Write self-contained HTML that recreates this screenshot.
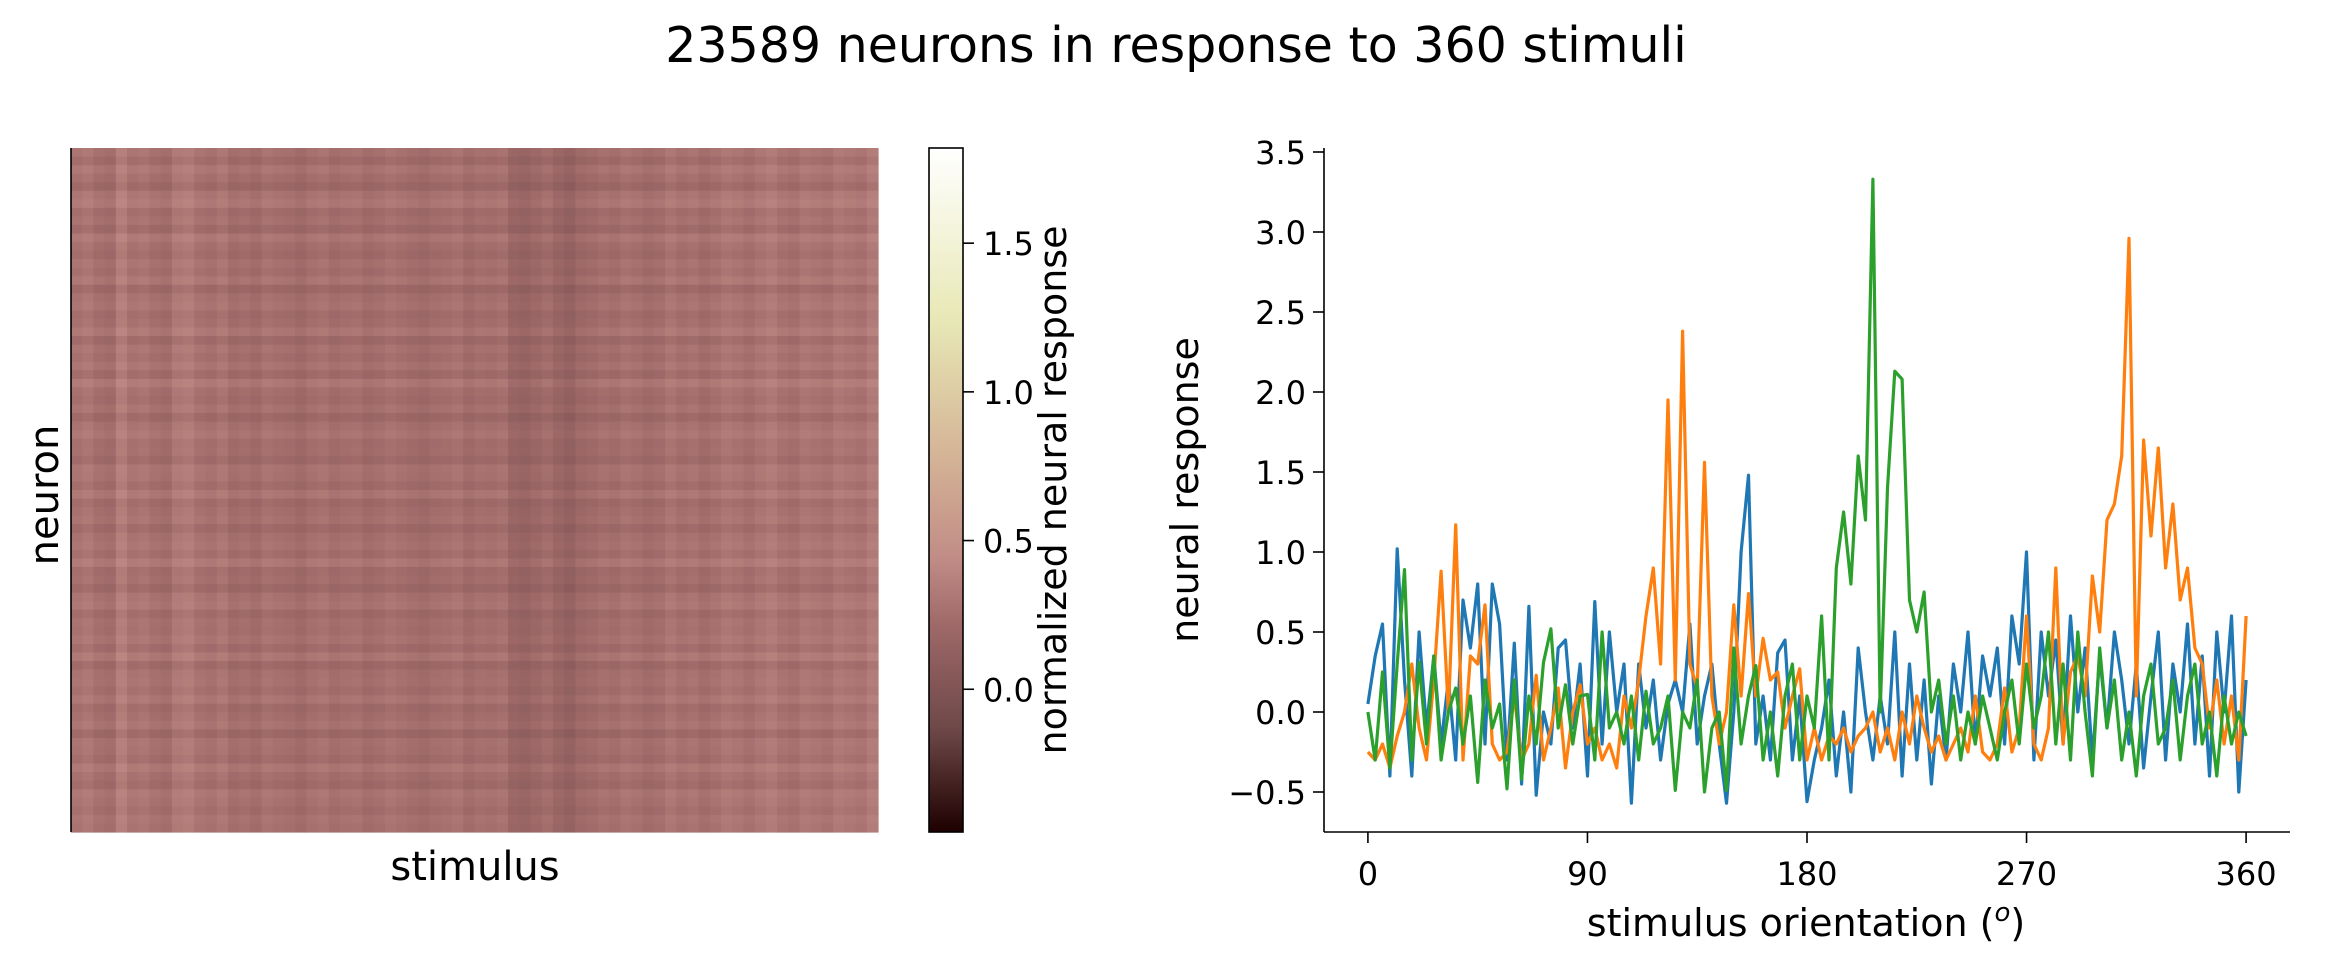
<!DOCTYPE html>
<html><head><meta charset="utf-8"><style>
html,body{margin:0;padding:0;background:#fff;}
svg{display:block;font-family:"DejaVu Sans","Liberation Sans",sans-serif;}
</style></head><body>
<svg id="fig" width="2352" height="965" viewBox="0 0 2352 965" xmlns="http://www.w3.org/2000/svg">
<text x="1176" y="62" font-size="49" text-anchor="middle">23589 neurons in response to 360 stimuli</text>
<g id="heat"></g>
<line x1="71" y1="148" x2="71" y2="832" stroke="#000" stroke-width="1.6"/>
<text x="475" y="880" font-size="40" text-anchor="middle">stimulus</text>
<text transform="translate(58,495) rotate(-90)" font-size="40" text-anchor="middle">neuron</text>
<defs><linearGradient id="cbg" x1="0" y1="1" x2="0" y2="0">
<stop offset="0" stop-color="rgb(30,0,0)"/><stop offset="0.15" stop-color="rgb(110,72,72)"/><stop offset="0.3" stop-color="rgb(158,104,104)"/><stop offset="0.4" stop-color="rgb(193,140,134)"/><stop offset="0.55" stop-color="rgb(212,180,150)"/><stop offset="0.75" stop-color="rgb(232,232,182)"/><stop offset="1" stop-color="rgb(255,255,255)"/>
</linearGradient></defs>
<rect x="929" y="148" width="34" height="684" fill="url(#cbg)" stroke="#000" stroke-width="1.6"/>
<g id="cbticks"></g>
<text transform="translate(1066,490) rotate(-90)" font-size="38" text-anchor="middle">normalized neural response</text>
<g id="lines"></g>
<line x1="1324" y1="148" x2="1324" y2="832" stroke="#000" stroke-width="1.6"/>
<line x1="1324" y1="832" x2="2290" y2="832" stroke="#000" stroke-width="1.6"/>
<g id="ticks"></g>
<text transform="translate(1198,490) rotate(-90)" font-size="38" text-anchor="middle">neural response</text>
<text x="1806" y="936" font-size="38" text-anchor="middle">stimulus orientation (<tspan font-style="italic" baseline-shift="super" font-size="26">o</tspan>)</text>
</svg>
<script>
const colVals=[0.22,0.25,0.2,0.18,0.3,0.22,0.24,0.2,0.18,0.26,0.28,0.22,0.2,0.24,0.18,0.2,0.17,0.22,0.2,0.19,0.16,0.2,0.22,0.18,0.2,0.21,0.17,0.19,0.22,0.2,0.18,0.16,0.19,0.2,0.22,0.17,0.2,0.19,0.21,0.12,0.1,0.14,0.18,0.12,0.08,0.15,0.17,0.2,0.18,0.22,0.2,0.17,0.19,0.24,0.2,0.22,0.18,0.21,0.25,0.23,0.2,0.24,0.27,0.22,0.2,0.25,0.23,0.21,0.26,0.24,0.22,0.28];
const rowVals=[0.02,-0.03,0.04,0.0,-0.05,0.03,0.06,-0.02,0.01,-0.04,0.05,0.0,-0.03,0.02,-0.01,0.04,-0.05,0.01,0.03,-0.02,0.0,0.05,-0.04,0.02,-0.01,0.03,-0.03,0.06,0.0,-0.02,0.02,-0.05,0.01,0.04,-0.01,0.0,-0.04,0.03,0.02,-0.02,0.05,-0.03,0.0,0.02,-0.04,0.01,0.03,-0.01,0.06,-0.02,0.0,-0.05,0.02,0.04,-0.03,0.01,0.0,0.03,-0.02,0.05,-0.04,0.01,0.02,-0.01,0.04,-0.03,0.0,0.03,-0.05,0.02,0.01,-0.02,0.05,0.0,-0.03,0.04,0.02,-0.01,0.03,0.01];
const cbTicks=[0.0,0.5,1.0,1.5];
const yTicks=[-0.5,0.0,0.5,1.0,1.5,2.0,2.5,3.0,3.5];
const xTicks=[0,90,180,270,360];
const blue=[0.05,0.35,0.55,-0.4,1.02,0.2,-0.4,0.5,-0.1,0.35,-0.2,0.2,-0.3,0.7,0.4,0.8,-0.2,0.8,0.55,-0.3,0.43,-0.45,0.66,-0.52,0.0,-0.2,0.4,0.45,-0.1,0.3,-0.4,0.69,-0.2,0.5,0.0,0.3,-0.57,0.3,-0.1,0.2,-0.3,0.05,0.2,0.0,0.55,-0.2,0.1,0.3,-0.2,-0.57,0.0,1.0,1.48,-0.2,0.1,-0.3,0.37,0.45,-0.3,0.1,-0.56,-0.3,-0.1,0.2,-0.4,0.0,-0.5,0.4,0.0,-0.3,0.1,-0.2,0.5,-0.4,0.3,-0.3,0.2,-0.45,0.1,-0.3,0.3,0.0,0.5,-0.2,0.35,0.1,0.4,-0.2,0.6,0.3,1.0,-0.3,0.5,0.1,0.45,-0.2,0.6,0.0,0.4,-0.3,0.35,-0.1,0.5,0.2,-0.2,0.3,-0.35,0.1,0.5,-0.3,0.3,0.0,0.55,-0.2,0.35,-0.4,0.5,0.0,0.6,-0.5,0.2];
const orange=[-0.25,-0.3,-0.2,-0.35,-0.15,0.0,0.3,-0.1,-0.3,0.2,0.88,0.0,1.17,-0.3,0.35,0.3,0.67,-0.2,-0.3,-0.25,0.1,-0.3,-0.2,0.23,-0.3,-0.1,0.15,-0.35,0.0,0.17,-0.2,-0.1,-0.3,-0.2,-0.35,0.1,-0.1,0.2,0.6,0.9,0.3,1.95,0.2,2.38,0.3,0.15,1.56,0.1,-0.2,0.0,0.67,0.1,0.74,0.1,0.46,0.2,0.25,-0.1,0.1,0.27,-0.3,-0.1,-0.3,-0.15,-0.2,-0.1,-0.25,-0.15,-0.1,0.0,-0.25,-0.1,-0.3,0.0,-0.2,0.1,-0.1,-0.25,-0.15,-0.3,-0.2,-0.1,-0.25,0.1,-0.25,-0.3,-0.2,0.15,-0.25,-0.1,0.6,-0.2,-0.3,-0.1,0.9,-0.2,0.25,0.35,0.1,0.85,0.5,1.2,1.3,1.6,2.96,0.1,1.7,1.1,1.65,0.9,1.3,0.7,0.9,0.4,0.3,-0.1,0.2,-0.2,0.1,-0.3,0.6];
const green=[0.0,-0.3,0.25,-0.35,0.3,0.89,-0.3,0.31,-0.2,0.35,-0.3,0.0,0.15,-0.2,0.1,-0.44,0.2,-0.1,0.05,-0.48,0.2,-0.42,0.1,-0.2,0.31,0.52,-0.1,0.17,-0.2,0.1,0.11,-0.3,0.5,-0.1,0.0,-0.2,0.1,-0.3,0.13,-0.2,-0.1,0.1,-0.49,0.0,-0.1,0.2,-0.5,-0.1,0.0,-0.49,0.4,-0.2,0.1,0.29,-0.3,0.0,-0.4,0.1,0.3,-0.3,0.1,-0.1,0.6,-0.3,0.9,1.25,0.8,1.6,1.2,3.33,0.0,1.4,2.13,2.08,0.7,0.5,0.75,0.0,0.2,-0.2,0.1,-0.3,0.0,-0.2,0.1,-0.1,-0.3,0.0,0.2,-0.2,0.3,-0.1,0.1,0.5,-0.2,0.3,-0.3,0.5,0.0,-0.4,0.4,-0.1,0.2,-0.3,0.0,-0.4,0.1,0.3,-0.2,-0.1,0.2,-0.3,0.1,0.3,-0.2,0.0,-0.4,0.1,-0.2,0.0,-0.15];

const NS="http://www.w3.org/2000/svg";
function mk(tag,attrs,parent){const e=document.createElementNS(NS,tag);for(const k in attrs)e.setAttribute(k,attrs[k]);parent.appendChild(e);return e;}
const stops=[[0,30,0,0],[0.15,110,72,72],[0.3,158,104,104],[0.4,193,140,134],[0.55,212,180,150],[0.75,232,232,182],[1,255,255,255]];
const vmin=-0.48,vmax=1.82;
function cmap(v){let t=(v-vmin)/(vmax-vmin);t=Math.max(0,Math.min(1,t));
 for(let i=1;i<stops.length;i++){if(t<=stops[i][0]){const a=stops[i-1],b=stops[i],f=(t-a[0])/(b[0]-a[0]);
  return `rgb(${Math.round(a[1]+f*(b[1]-a[1]))},${Math.round(a[2]+f*(b[2]-a[2]))},${Math.round(a[3]+f*(b[3]-a[3]))})`;}}
 return "rgb(255,255,255)";}
const hx0=71,hx1=878,hy0=148,hy1=832;
const heat=document.getElementById('heat');
const cw=(hx1-hx0)/colVals.length, rh=(hy1-hy0)/rowVals.length;
for(let r=0;r<rowVals.length;r++){for(let c=0;c<colVals.length;c++){
 const el=mk('rect',{x:(hx0+c*cw).toFixed(2),y:(hy0+r*rh).toFixed(2),width:(cw+0.6).toFixed(2),height:(rh+0.6).toFixed(2),fill:cmap(colVals[c]+rowVals[r]+0.05)},heat);
 
 
}}
const cbY=v=>832-(v-vmin)/(vmax-vmin)*684;
const cbt=document.getElementById('cbticks');
cbTicks.forEach(v=>{const y=cbY(v);
 const l=mk('line',{x1:963,y1:y,x2:974,y2:y,stroke:'#000','stroke-width':1.6},cbt);
 
 
 const t=mk('text',{x:983,y:y+12,'font-size':32},cbt);t.textContent=v.toFixed(1);
 
 
});
const xS=d=>1324+(d+18)/396*966;
const yS=v=>552-(v-1.0)*160;
const tk=document.getElementById('ticks');
yTicks.forEach(v=>{const y=yS(v);
 const l=mk('line',{x1:1313,y1:y,x2:1324,y2:y,stroke:'#000','stroke-width':1.6},tk);
 
 
 const t=mk('text',{x:1306,y:y+12,'font-size':32,'text-anchor':'end'},tk);t.textContent=(v<0?'\u2212':'')+Math.abs(v).toFixed(1);
 
 
});
xTicks.forEach(v=>{const x=xS(v);
 const l=mk('line',{x1:x,y1:832,x2:x,y2:843,stroke:'#000','stroke-width':1.6},tk);
 
 
 const t=mk('text',{x:x,y:885,'font-size':32,'text-anchor':'middle'},tk);t.textContent=String(v);
 
 
});
const lg=document.getElementById('lines');
[[blue,'#1f77b4','series-blue'],[orange,'#ff7f0e','series-orange'],[green,'#2ca02c','series-green']].forEach(([arr,col,nm])=>{
 const n=arr.length;const pts=arr.map((v,i)=>xS(i*360/(n-1)).toFixed(1)+','+yS(v).toFixed(1)).join(' ');
 const p=mk('polyline',{points:pts,fill:'none',stroke:col,'stroke-width':3.2,'stroke-linejoin':'round'},lg);
 
 
});
</script>
</body></html>
